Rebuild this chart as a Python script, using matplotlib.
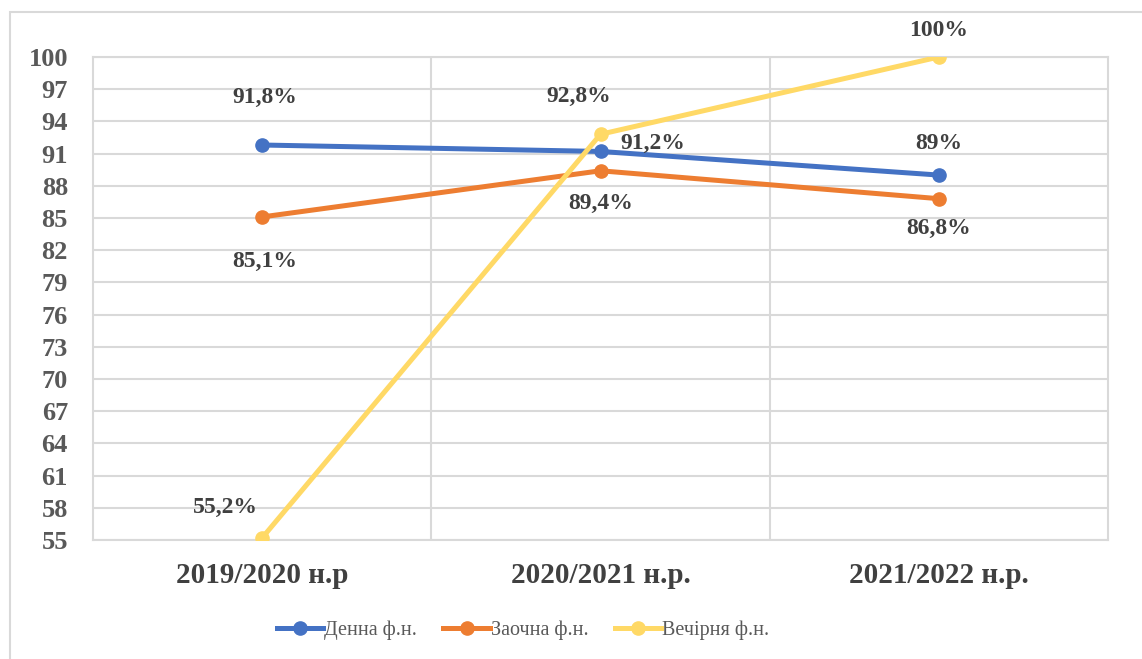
import matplotlib.pyplot as plt
from matplotlib.patches import Rectangle

# Дані
роки = ['2019/2020 н.р', '2020/2021 н.р.', '2021/2022 н.р.']
денна = [91.8, 91.2, 89.0]
заочна = [85.1, 89.4, 86.8]
вечірня = [55.2, 92.8, 100.0]
мітки_денна = ['91,8%', '91,2%', '89%']
мітки_заочна = ['85,1%', '89,4%', '86,8%']
мітки_вечірня = ['55,2%', '92,8%', '100%']
y_ticks = list(range(55, 101, 3))

plt.rcParams['font.family'] = ['Liberation Serif', 'DejaVu Serif']

fig = plt.figure(figsize=(11.42, 6.59), dpi=100)
W, H = 1142, 659
ax = fig.add_axes([93 / W, 1 - 540 / H, (1108 - 93) / W, (540 - 57) / H])

# рамка діаграми
fig.patches.append(Rectangle((10 / W, -0.1), 1.2, 1 - 12 / H + 0.1,
                             transform=fig.transFigure, fill=False,
                             edgecolor='#D9D9D9', linewidth=1.5))

x = list(range(len(роки)))
c_blue, c_orange, c_yellow = '#4472C4', '#ED7D31', '#FFD966'
ax.plot(x, денна, color=c_blue, lw=3.6, marker='o', ms=9.5, label='Денна ф.н.', zorder=3)
ax.plot(x, заочна, color=c_orange, lw=3.6, marker='o', ms=9.5, label='Заочна ф.н.', zorder=3)
ax.plot(x, вечірня, color=c_yellow, lw=3.6, marker='o', ms=9.5, label='Вечірня ф.н.', zorder=4)

ax.set_xlim(-0.5, 2.5)
ax.set_ylim(55, 100)
ax.set_yticks(y_ticks)
ax.set_xticks(x)
ax.set_xticklabels(роки)
ax.set_xticks([0.5, 1.5], minor=True)
ax.grid(axis='y', color='#D9D9D9', lw=1.5)
ax.grid(axis='x', which='minor', color='#D9D9D9', lw=1.5)
ax.set_axisbelow(True)
for s in ['top', 'right', 'left', 'bottom']:
    ax.spines[s].set_color('#D9D9D9')
    ax.spines[s].set_linewidth(1.5)
ax.tick_params(axis='both', which='both', length=0)
ax.tick_params(axis='y', labelsize=19, colors='#595959', pad=18)
ax.tick_params(axis='x', labelsize=21, colors='#404040', pad=16)
for t in ax.get_yticklabels() + ax.get_xticklabels():
    t.set_fontweight('bold')

txt = dict(fontsize=17, fontweight='bold', color='#404040', ha='center', va='center')
offs_d = [(3, 48), (52, 8), (0, 32)]
offs_z = [(3, -45), (0, -33), (0, -30)]
offs_v = [(-37, 30), (-22, 38), (0, 26)]
for i in x:
    ax.annotate(мітки_денна[i], (i, денна[i]), xytext=offs_d[i], textcoords='offset pixels', **txt)
    ax.annotate(мітки_заочна[i], (i, заочна[i]), xytext=offs_z[i], textcoords='offset pixels', **txt)
    ax.annotate(мітки_вечірня[i], (i, вечірня[i]), xytext=offs_v[i], textcoords='offset pixels',
                annotation_clip=False, **txt)

leg = fig.legend(loc='center', bbox_to_anchor=(523 / W, 1 - 630 / H), ncol=3, frameon=False,
                 fontsize=14.5, handlelength=2.3, columnspacing=1.3, handletextpad=0.05)
for t in leg.get_texts():
    t.set_color('#595959')

fig.savefig('out.png', dpi=100)
